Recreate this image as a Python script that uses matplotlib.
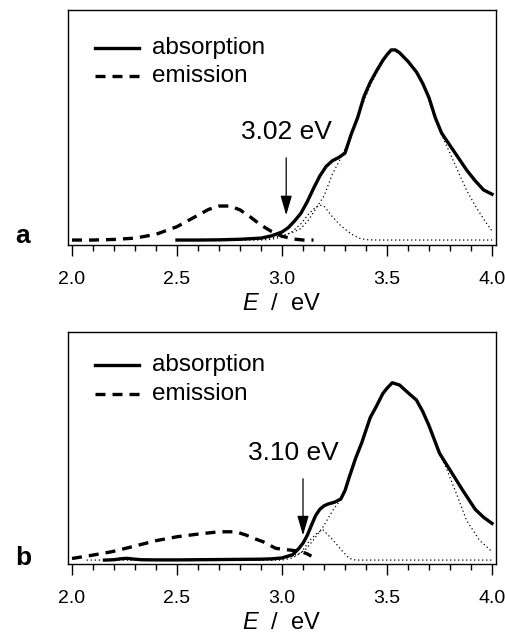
import matplotlib
matplotlib.use("Agg")
import matplotlib.pyplot as plt
from matplotlib.ticker import MultipleLocator

plt.rcParams['font.family'] = ['Liberation Sans', 'DejaVu Sans']
plt.rcParams['mathtext.fontset'] = 'custom'
plt.rcParams['mathtext.rm'] = 'Liberation Sans'
plt.rcParams['mathtext.it'] = 'Liberation Sans:italic'

# ---- panel a ----
abs_a_E = [2.50, 2.60, 2.70, 2.80, 2.90, 2.95, 3.00, 3.03, 3.06, 3.09, 3.12, 3.15,
           3.18, 3.21, 3.24, 3.27, 3.30, 3.33, 3.36, 3.39, 3.42, 3.45, 3.48, 3.50,
           3.52, 3.54, 3.56, 3.60, 3.64, 3.67, 3.70, 3.73, 3.76, 3.80, 3.84, 3.88,
           3.92, 3.96, 4.00]
abs_a_I = [0.000, 0.000, 0.001, 0.004, 0.010, 0.022, 0.042, 0.065, 0.100, 0.140, 0.200, 0.270,
           0.335, 0.385, 0.415, 0.432, 0.455, 0.555, 0.640, 0.750, 0.825, 0.885, 0.940, 0.970,
           0.995, 0.995, 0.980, 0.935, 0.880, 0.820, 0.745, 0.640, 0.560, 0.495, 0.430, 0.365,
           0.310, 0.262, 0.240]

em_a_E = [2.00, 2.10, 2.20, 2.30, 2.40, 2.50, 2.60, 2.65, 2.70, 2.75, 2.80, 2.85,
          2.90, 2.95, 3.00, 3.05, 3.10, 3.15]
em_a_I = [0.000, 0.000, 0.003, 0.010, 0.030, 0.070, 0.130, 0.160, 0.178, 0.178, 0.158, 0.120,
          0.078, 0.045, 0.020, 0.006, 0.000, 0.000]

fit1_a_E = [2.90, 2.95, 3.00, 3.05, 3.09, 3.13, 3.17, 3.20, 3.24, 3.29, 3.33, 3.38,
            3.42, 3.48, 3.52, 3.56, 3.60, 3.65, 3.69, 3.72, 3.76, 3.80, 3.84, 3.88,
            3.92, 3.96, 4.00]
fit1_a_I = [0.005, 0.012, 0.022, 0.040, 0.060, 0.110, 0.180, 0.230, 0.345, 0.450, 0.550, 0.700,
            0.810, 0.935, 0.995, 0.978, 0.935, 0.870, 0.760, 0.665, 0.550, 0.454, 0.355, 0.258,
            0.180, 0.110, 0.047]

fit2_a_E = [2.50, 2.90, 2.95, 3.00, 3.05, 3.09, 3.13, 3.16, 3.18, 3.20, 3.24, 3.28,
            3.31, 3.34, 3.37, 3.40, 3.45, 4.00]
fit2_a_I = [0.000, 0.000, 0.004, 0.015, 0.045, 0.085, 0.140, 0.172, 0.183, 0.178, 0.122, 0.075,
            0.048, 0.025, 0.009, 0.002, 0.000, 0.000]

# ---- panel b ----
abs_b_E = [2.155, 2.20, 2.23, 2.26, 2.29, 2.33, 2.40, 2.50, 2.60, 2.70, 2.80, 2.90,
           2.95, 3.00, 3.05, 3.08, 3.10, 3.12, 3.14, 3.16, 3.18, 3.20, 3.22, 3.25,
           3.28, 3.30, 3.32, 3.35, 3.38, 3.42, 3.45, 3.48, 3.50, 3.525, 3.56, 3.60,
           3.64, 3.67, 3.70, 3.75, 3.80, 3.86, 3.92, 3.96, 4.00]
abs_b_I = [0.000, 0.002, 0.007, 0.010, 0.006, 0.002, 0.001, 0.001, 0.002, 0.003, 0.004, 0.005,
           0.007, 0.012, 0.030, 0.065, 0.095, 0.138, 0.195, 0.250, 0.285, 0.305, 0.315, 0.325,
           0.343, 0.390, 0.465, 0.570, 0.660, 0.800, 0.865, 0.935, 0.965, 0.996, 0.983, 0.940,
           0.899, 0.835, 0.755, 0.600, 0.506, 0.393, 0.285, 0.240, 0.206]

em_b_E = [2.00, 2.09, 2.19, 2.30, 2.40, 2.50, 2.60, 2.70, 2.78, 2.83, 2.87, 2.91,
          2.97, 3.04, 3.09, 3.12, 3.14]
em_b_I = [0.009, 0.026, 0.047, 0.079, 0.109, 0.131, 0.146, 0.159, 0.159, 0.140, 0.120, 0.103,
          0.066, 0.056, 0.048, 0.035, 0.022]

fit1_b_E = [2.95, 3.00, 3.05, 3.086, 3.11, 3.149, 3.196, 3.243, 3.283, 3.32, 3.37, 3.426,
            3.481, 3.525, 3.56, 3.64, 3.686, 3.75, 3.78, 3.83, 3.878, 3.94, 4.00]
fit1_b_I = [0.000, 0.008, 0.022, 0.040, 0.056, 0.112, 0.187, 0.281, 0.346, 0.465, 0.637, 0.805,
            0.936, 0.996, 0.983, 0.899, 0.787, 0.600, 0.524, 0.375, 0.225, 0.112, 0.047]

fit2_b_E = [2.07, 3.00, 3.05, 3.09, 3.133, 3.17, 3.196, 3.243, 3.29, 3.32, 3.35, 4.00]
fit2_b_I = [0.000, 0.000, 0.012, 0.040, 0.112, 0.155, 0.169, 0.112, 0.047, 0.010, 0.000, 0.000]

onset = [3.02, 3.10]
onset_labels = ["3.02 eV", "3.10 eV"]

fig = plt.figure(figsize=(5.06, 6.34), dpi=100)
ax_a = fig.add_axes([68 / 506, 1 - 245 / 634, 428 / 506, 235 / 634])
ax_b = fig.add_axes([68 / 506, 1 - 564 / 634, 428 / 506, 232 / 634])

dash = (0, (3.0, 2.1))
dot = (0, (1, 2.2))

panels = [
    (ax_a, abs_a_E, abs_a_I, em_a_E, em_a_I, fit1_a_E, fit1_a_I, fit2_a_E, fit2_a_I,
     (-0.026, 1.204), (0.13, 0.43), (3.022, 0.567), 'a', 243,
     (0.838, 0.719)),
    (ax_b, abs_b_E, abs_b_I, em_b_E, em_b_I, fit1_b_E, fit1_b_I, fit2_b_E, fit2_b_I,
     (-0.022, 1.281), (0.139, 0.457), (3.054, 0.60), 'b', 565,
     (0.858, 0.733)),
]

for i, (ax, aE, aI, eE, eI, f1E, f1I, f2E, f2I, ylim, arr, txt, lab, lab_y, leg_y) in enumerate(panels):
    ax.plot(f1E, f1I, color='black', lw=0.9, linestyle=dot)
    ax.plot(f2E, f2I, color='black', lw=0.9, linestyle=dot)
    ax.plot(eE, eI, color='black', lw=2.4, linestyle=dash, solid_capstyle='butt')
    ax.plot(aE, aI, color='black', lw=2.4, solid_joinstyle='round')

    ax.set_xlim(2 - 4 / 210, 4 + 4 / 210)
    ax.set_ylim(*ylim)
    ax.set_yticks([])
    ax.xaxis.set_major_locator(MultipleLocator(0.5))
    ax.xaxis.set_minor_locator(MultipleLocator(0.1))
    ax.xaxis.set_major_formatter(plt.FormatStrFormatter('%.1f'))
    ax.tick_params(axis='x', which='major', direction='out', length=8, width=1.0,
                   labelsize=14, pad=10.5)
    ax.tick_params(axis='x', which='minor', direction='out', length=4.5, width=1.0)
    for s in ax.spines.values():
        s.set_linewidth(1.0)
    ax.set_xlabel('$E$  /  eV', fontsize=17, labelpad=3.5)

    # onset arrow
    ax.annotate('', xy=(onset[i], arr[0]), xytext=(onset[i], arr[1]),
                arrowprops=dict(arrowstyle='-|>,head_length=1.2,head_width=0.35',
                                mutation_scale=10, lw=0.9, color='black',
                                shrinkA=0, shrinkB=0))
    ax.text(txt[0], txt[1], onset_labels[i], fontsize=19, ha='center', va='center')

    # legend drawn by hand
    ax.plot([0.063, 0.166], [leg_y[0], leg_y[0]], transform=ax.transAxes,
            color='black', lw=2.4)
    ax.plot([0.063, 0.166], [leg_y[1], leg_y[1]], transform=ax.transAxes,
            color='black', lw=2.4, linestyle=dash)
    ax.text(0.196, leg_y[0], 'absorption', transform=ax.transAxes, fontsize=17.5,
            va='center', ha='left')
    ax.text(0.196, leg_y[1], 'emission', transform=ax.transAxes, fontsize=17.5,
            va='center', ha='left')

    fig.text(23 / 506, 1 - lab_y / 634, lab, fontsize=19, fontweight='bold',
             ha='center', va='baseline')

fig.savefig('out.png', dpi=100)
